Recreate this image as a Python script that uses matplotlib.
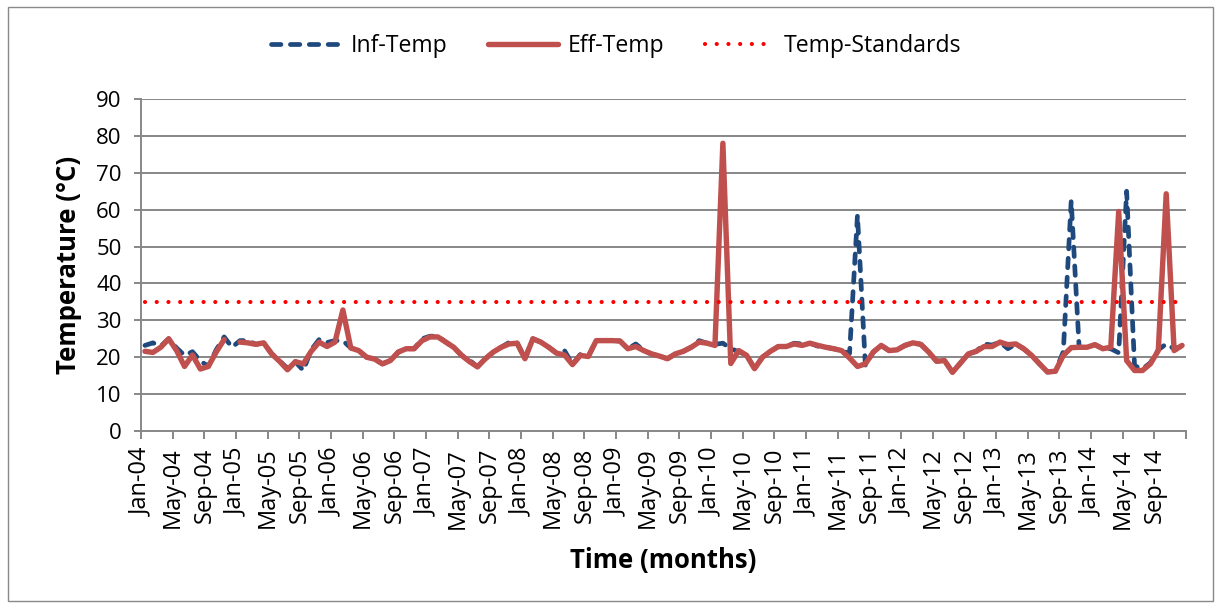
import numpy as np
import matplotlib
matplotlib.use("Agg")
import matplotlib.pyplot as plt
from matplotlib.patches import Rectangle

# ---------------- data ----------------
months = ["Jan", "Feb", "Mar", "Apr", "May", "Jun", "Jul", "Aug", "Sep", "Oct", "Nov", "Dec"]
years = list(range(2004, 2015))
month_labels = [f"{m}-{str(y)[2:]}" for y in years for m in months]  # Jan-04 .. Dec-14

eff_temp = [
    21.6, 21.3, 22.7, 25.0, 21.8, 17.5, 20.6, 16.8, 17.5, 21.4, 24.8, np.nan,   # 2004
    24.1, 23.9, 23.5, 23.9, 20.9, 18.9, 16.6, 18.8, 18.2, 21.6, 24.1, 22.9,     # 2005
    24.1, 32.8, 22.5, 21.8, 20.0, 19.5, 18.2, 19.1, 21.4, 22.3, 22.3, 24.5,     # 2006
    25.5, 25.5, 24.1, 22.7, 20.5, 18.8, 17.4, 19.6, 21.4, 22.7, 23.6, 23.8,     # 2007
    19.6, 25.0, 24.1, 22.7, 21.1, 20.6, 18.0, 20.5, 20.2, 24.5, 24.5, 24.5,     # 2008
    24.4, 22.3, 22.9, 21.8, 20.9, 20.3, 19.6, 20.9, 21.6, 22.7, 24.1, 23.8,     # 2009
    23.2, 78.0, 18.3, 21.8, 20.5, 16.9, 20.0, 21.6, 22.9, 22.9, 23.6, 23.2,     # 2010
    23.8, 23.2, 22.7, 22.3, 21.8, 19.8, 17.5, 18.2, 21.4, 23.2, 21.8, 22.0,     # 2011
    23.2, 23.9, 23.5, 21.4, 18.9, 19.1, 15.9, 18.4, 20.9, 21.6, 22.9, 22.9,     # 2012
    24.1, 23.4, 23.6, 22.3, 20.5, 18.2, 16.0, 16.2, 20.5, 22.6, 22.7, 22.7,     # 2013
    23.4, 22.3, 22.7, 59.5, 19.1, 16.4, 16.4, 18.2, 21.8, 64.3, 21.8, 23.2,     # 2014
]

inf_temp = [
    23.2, 23.9, 23.0, 25.0, 22.5, 20.5, 21.5, 19.0, 17.5, 22.0, 25.5, 22.7,     # 2004
    24.5, 24.5, 23.5, 23.9, 21.0, 19.0, 17.0, 18.8, 16.4, 22.0, 24.8, 24.0,     # 2005
    24.5, 24.5, 22.5, 21.8, 20.0, 19.5, 18.2, 19.1, 21.4, 22.3, 22.3, 25.0,     # 2006
    25.7, 25.7, 24.1, 22.7, 20.5, 19.2, 17.4, 19.6, 21.4, 22.7, 24.0, 24.0,     # 2007
    19.6, 25.0, 24.1, 22.7, 21.1, 21.8, 18.0, 20.8, 20.2, 24.5, 24.5, 24.5,     # 2008
    24.4, 22.3, 23.6, 21.8, 20.9, 20.3, 19.6, 20.9, 21.6, 22.7, 24.5, 23.8,     # 2009
    23.5, 23.8, 22.3, 21.5, 20.5, 16.9, 20.0, 21.6, 22.9, 22.9, 23.8, 23.6,     # 2010
    23.8, 23.0, 22.7, 22.3, 21.8, 21.0, 58.5, 17.8, 21.4, 23.2, 21.8, 22.0,     # 2011
    23.2, 23.9, 23.5, 21.4, 18.9, 19.1, 15.9, 18.4, 20.9, 21.6, 23.6, 23.3,     # 2012
    24.1, 22.3, 23.6, 22.3, 20.5, 18.2, 16.0, 16.2, 21.5, 62.4, 22.7, 22.7,     # 2013
    23.4, 22.3, 22.3, 21.2, 65.0, 17.7, 16.8, 18.5, 22.0, 23.6, 22.3, 23.0,     # 2014
]

temp_standard = [35.0] * len(month_labels)

y_ticks = list(range(0, 91, 10))

# ---------------- figure ----------------
W, H = 1221, 608
fig = plt.figure(figsize=(W / 100, H / 100), dpi=100)
plt.rcParams["font.family"] = ["Open Sans", "DejaVu Sans"]

# outer chart frame
fig.patches.append(Rectangle((8 / W, 1 - 601 / H), (1213 - 8) / W, (601 - 7) / H,
                             transform=fig.transFigure, fill=False,
                             edgecolor="#898989", linewidth=1.0))

ax = fig.add_axes([141 / W, 1 - 431 / H, (1186 - 141) / W, (431 - 99) / H])

n = len(month_labels)
x = np.arange(n) + 0.5

grid_c = "#878787"
blue = "#1F497D"
red = "#C0504D"

ax.plot(x, inf_temp, color=blue, lw=3.4, linestyle=(0, (2.0, 2.0)),
        dash_capstyle="round", solid_joinstyle="round", label="Inf-Temp", zorder=3)
ax.plot(x, eff_temp, color=red, lw=3.9, solid_capstyle="round",
        solid_joinstyle="round", label="Eff-Temp", zorder=4)
ax.plot(x, temp_standard, color="#FF0000", lw=3.0, linestyle=(0, (0.01, 2.8)),
        dash_capstyle="round", label="Temp-Standards", zorder=5)

ax.set_xlim(0, n)
ax.set_ylim(0, 90)
ax.set_yticks(y_ticks)
ax.set_yticklabels([str(v) for v in y_ticks], fontsize=16)

tick_pos = list(range(0, n + 1, 4))
tick_lab = [month_labels[i] if i < n else "" for i in tick_pos]
ax.set_xticks(tick_pos)
ax.set_xticklabels(tick_lab, rotation=90, fontsize=17)

for v in y_ticks[1:]:
    ax.axhline(v, color=grid_c, lw=1.4, zorder=1)

for s in ["top", "right"]:
    ax.spines[s].set_visible(False)
for s in ["left", "bottom"]:
    ax.spines[s].set_color(grid_c)
    ax.spines[s].set_linewidth(1.4)

ax.tick_params(axis="x", direction="out", length=6, width=1.4, color=grid_c, pad=6)
ax.tick_params(axis="y", direction="out", length=5, width=1.4, color=grid_c, pad=9)

ax.set_ylabel("Temperature (°C)", fontsize=18.5, fontweight="bold", labelpad=10)
ax.set_xlabel("Time (months)", fontsize=18.5, fontweight="bold", labelpad=13)

fig.legend(loc="center", bbox_to_anchor=(0.5 + 6 / W, 1 - 46 / H), ncol=3,
           frameon=False, fontsize=16.6, handlelength=3.05, handletextpad=0.4,
           columnspacing=1.75)

fig.savefig("out.png", dpi=100, facecolor="white")
